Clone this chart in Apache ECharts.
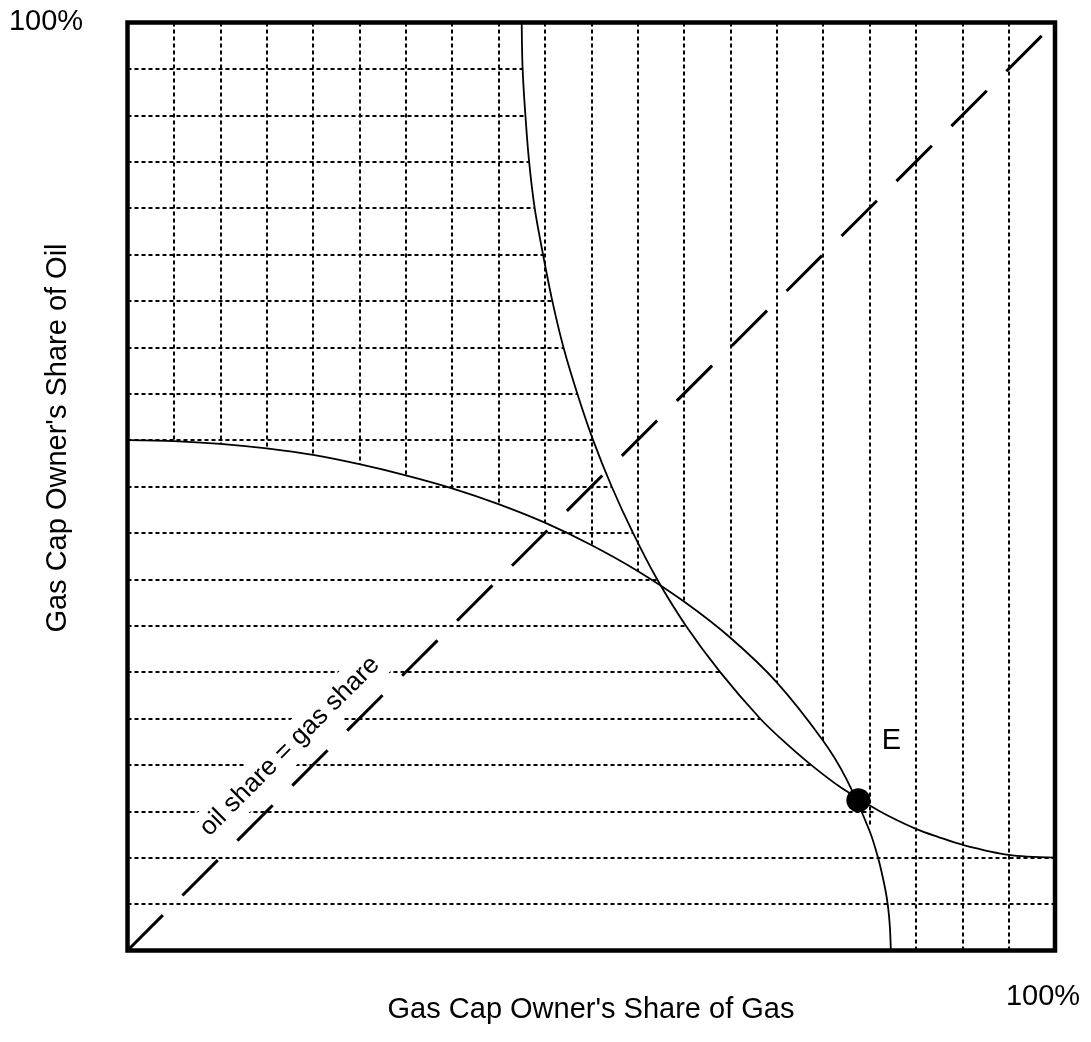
<!DOCTYPE html>
<html>
<head>
<meta charset="utf-8">
<script src="https://cdn.jsdelivr.net/npm/echarts@6/dist/echarts.min.js"></script>
<style>
  html, body { margin: 0; padding: 0; background: #fff; }
  #chart { width: 1091px; height: 1042px; }
</style>
</head>
<body>
<div id="chart"></div>
<script>
// horizontal hatching: oil-share levels and where each line stops (at the steep curve)
const hatchY = [5, 10, 15, 20, 25, 30, 35, 40, 45, 50, 55, 60, 65, 70, 75, 80, 85, 90, 95];
const hatchXEnd = [100, 100, 80.6, 73.7, 68.2, 63.9, 60.2, 57.1, 54.5, 52.2, 50.2, 48.5, 47.0, 45.8, 44.8, 43.9, 43.3, 42.9, 42.6];

// vertical hatching: gas-share levels and where each line stops (at the lower curve)
const hatchX = [5, 10, 15, 20, 25, 30, 35, 40, 45, 50, 55, 60, 65, 70, 75, 80, 85, 90, 95];
const hatchYEnd = [54.9, 54.6, 54.1, 53.4, 52.4, 51.2, 49.8, 48.1, 46.1, 43.7, 40.9, 37.6, 33.7, 28.9, 22.6, 13.4, 0, 0, 0];

// steep curve, from the top edge down to the right edge
const curveA = [
  [42.5, 100], [42.6, 95], [42.9, 90], [43.3, 85], [43.9, 80], [44.8, 75], [45.8, 70],
  [47.0, 65], [48.5, 60], [50.2, 55], [52.2, 50], [54.5, 45], [57.1, 40], [60.2, 35],
  [63.9, 30], [68.2, 25], [70.8, 22.5], [73.7, 20], [77.0, 17.5], [81.1, 15], [85, 13.1],
  [87.5, 12.2], [90, 11.4], [95, 10.3], [100, 10.0]
];

// lower curve, from the left edge down to the bottom edge
const curveB = [
  [0, 55], [5, 54.9], [10, 54.6], [15, 54.1], [20, 53.4], [25, 52.4], [30, 51.2],
  [35, 49.8], [40, 48.1], [45, 46.1], [50, 43.7], [55, 40.9], [60, 37.6], [65, 33.7],
  [70, 28.9], [75, 22.6], [77.5, 18.5], [80, 12.9], [81, 9.7], [81.7, 6.6], [82, 4.7],
  [82.2, 2.5], [82.3, 0]
];

const diagonal = [[0, 0], [100, 100]];
const pointE = [78.8, 16.2];
const diagLabelAt = [17.5, 22.0];

const FONT = '"Liberation Sans", Arial, sans-serif';

const chart = echarts.init(document.getElementById('chart'));

chart.setOption({
  animation: false,
  grid: {
    left: 127.5, top: 22.5, width: 927.5, height: 928,
    show: true, borderColor: '#000', borderWidth: 4.5, backgroundColor: '#fff'
  },
  xAxis: {
    type: 'value', min: 0, max: 100,
    axisLine: { show: false }, axisTick: { show: false }, axisLabel: { show: false }, splitLine: { show: false }
  },
  yAxis: {
    type: 'value', min: 0, max: 100,
    axisLine: { show: false }, axisTick: { show: false }, axisLabel: { show: false }, splitLine: { show: false }
  },
  graphic: [
    { type: 'text', x: 46, y: 22, z: 10, style: { text: '100%', fontSize: 29, fontFamily: FONT, fill: '#000', align: 'center', verticalAlign: 'middle' } },
    { type: 'text', x: 1043, y: 997, z: 10, style: { text: '100%', fontSize: 29, fontFamily: FONT, fill: '#000', align: 'center', verticalAlign: 'middle' } },
    { type: 'text', x: 591, y: 1010, z: 10, style: { text: "Gas Cap Owner's Share of Gas", fontSize: 29, fontFamily: FONT, fill: '#000', align: 'center', verticalAlign: 'middle' } },
    { type: 'text', x: 58, y: 438, rotation: Math.PI / 2, z: 10, style: { text: "Gas Cap Owner's Share of Oil", fontSize: 29, fontFamily: FONT, fill: '#000', align: 'center', verticalAlign: 'middle' } }
  ],
  series: [
    {
      name: 'horizontal hatch', type: 'lines', coordinateSystem: 'cartesian2d', z: 1, silent: true,
      data: hatchY.map((y, i) => ({ coords: [[0, y], [hatchXEnd[i], y]] })),
      lineStyle: { color: '#000', width: 2, type: [4, 3], opacity: 1 }
    },
    {
      name: 'vertical hatch', type: 'lines', coordinateSystem: 'cartesian2d', z: 1, silent: true,
      data: hatchX.map((x, i) => ({ coords: [[x, 100], [x, hatchYEnd[i]]] })),
      lineStyle: { color: '#000', width: 2, type: [4, 3], opacity: 1 }
    },
    {
      // label for the 45° line, white box cuts the hatching underneath
      name: 'diag label', type: 'scatter', z: 3, silent: true,
      data: [diagLabelAt], symbolSize: 1, itemStyle: { color: 'rgba(0,0,0,0)', opacity: 1 },
      label: {
        show: true, position: 'inside', rotate: 45, formatter: 'oil share = gas share',
        fontSize: 26, fontFamily: FONT, color: '#000', opacity: 1, backgroundColor: '#fff', padding: [5, 8]
      }
    },
    {
      name: 'curve A', type: 'line', z: 4, data: curveA, symbol: 'none', smooth: 0.3,
      lineStyle: { color: '#000', width: 1.8 }
    },
    {
      name: 'curve B', type: 'line', z: 4, data: curveB, symbol: 'none', smooth: 0.3,
      lineStyle: { color: '#000', width: 1.8 }
    },
    {
      name: 'oil share = gas share', type: 'line', z: 4, data: diagonal, symbol: 'none',
      lineStyle: { color: '#000', width: 3, type: [50, 27.7] }
    },
    {
      name: 'E', type: 'scatter', z: 5, data: [pointE], symbolSize: 24,
      itemStyle: { color: '#000', opacity: 1 },
      label: { show: true, position: 'inside', offset: [33, -59], formatter: 'E', fontSize: 29, fontFamily: FONT, color: '#000', opacity: 1 }
    }
  ]
});
</script>
</body>
</html>
